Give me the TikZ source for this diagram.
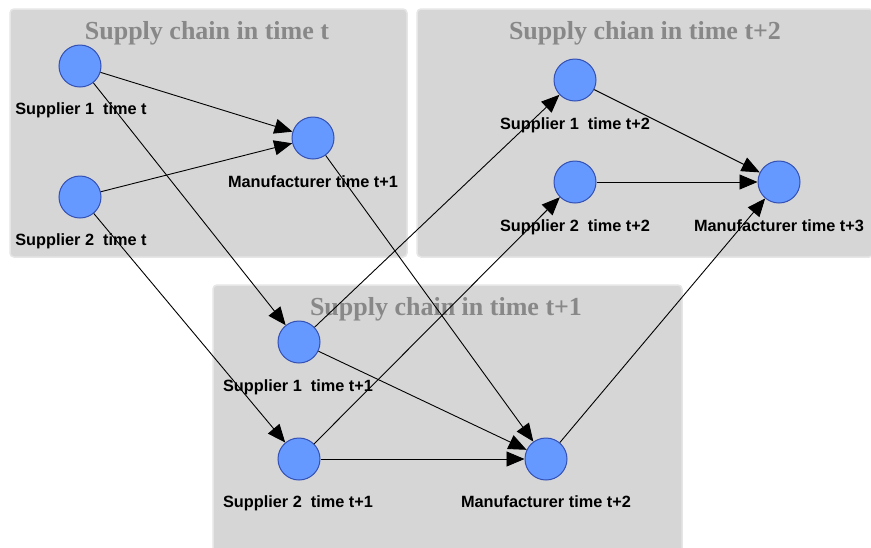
\documentclass[tikz,border=0pt]{standalone}
\usepackage{fontspec}
\setmainfont{Liberation Serif}
\setsansfont{Liberation Sans}
\usetikzlibrary{arrows.meta}
\definecolor{boxgray}{RGB}{214,214,214}
\definecolor{boxedge}{RGB}{230,230,230}
\definecolor{titlegray}{RGB}{136,136,136}
\definecolor{nodeblue}{RGB}{102,153,255}
\definecolor{nodeedge}{RGB}{51,80,180}
\tikzset{>={Triangle[length=18pt,width=15pt]}}
\tikzset{
  chainbox/.style={fill=boxgray, draw=boxedge, line width=1.5pt, rounded corners=4pt},
  boxtitle/.style={anchor=base, text=titlegray, font=\fontsize{26}{28}\selectfont\bfseries},
  agent/.style={circle, minimum size=42pt, inner sep=0pt, fill=nodeblue, draw=nodeedge, line width=1pt},
  lbl/.style={anchor=base, font=\sffamily\bfseries\fontsize{16.3}{18}\selectfont},
  flow/.style={->, line width=0.9pt}
}
\begin{document}
\begin{tikzpicture}[x=1pt, y=-1pt]
      \useasboundingbox (0,0) rectangle (871,547);
      \fill[white] (0,0) rectangle (871,547);
      \clip (0,0) rectangle (871,547);
      \draw[chainbox] (10,9) rectangle (407,257);
      \draw[chainbox] (417,9) rectangle (873,257);
      \draw[chainbox] (213,285) rectangle (682,560);
      \node[boxtitle] (title0) at (207,39) {Supply chain in time t};
      \node[boxtitle] (title2) at (645,39) {Supply chian in time t+2};
      \node[boxtitle] (title1) at (446,315) {Supply chain in time t+1};
      \node[agent] (s1t) at (80,66) {};
      \node[agent] (s2t) at (80,197) {};
      \node[agent] (mt1) at (313,138) {};
      \node[agent] (s1t1) at (299,342) {};
      \node[agent] (s2t1) at (299,459) {};
      \node[agent] (mt2) at (546,459) {};
      \node[agent] (s1t2) at (575,80) {};
      \node[agent] (s2t2) at (575,182) {};
      \node[agent] (mt3) at (779,182) {};
      \node[lbl] (ls1t) at (81,114) {Supplier 1~~time t};
      \node[lbl] (ls2t) at (81,245) {Supplier 2~~time t};
      \node[lbl] (lmt1) at (313,187) {Manufacturer time t+1};
      \node[lbl] (ls1t1) at (298,391) {Supplier 1~~time t+1};
      \node[lbl] (ls2t1) at (298,507) {Supplier 2~~time t+1};
      \node[lbl] (lmt2) at (546,507) {Manufacturer time t+2};
      \node[lbl] (ls1t2) at (575,129) {Supplier 1~~time t+2};
      \node[lbl] (ls2t2) at (575,231) {Supplier 2~~time t+2};
      \node[lbl] (lmt3) at (779,231) {Manufacturer time t+3};
      \draw[flow] (s1t) -- (mt1);
      \draw[flow] (s2t) -- (mt1);
      \draw[flow] (s1t) -- (s1t1);
      \draw[flow] (s2t) -- (s2t1);
      \draw[flow] (mt1) -- (mt2);
      \draw[flow] (s1t1) -- (mt2);
      \draw[flow] (s2t1) -- (mt2);
      \draw[flow] (s1t1) -- (s1t2);
      \draw[flow] (s2t1) -- (s2t2);
      \draw[flow] (mt2) -- (mt3);
      \draw[flow] (s1t2) -- (mt3);
      \draw[flow] (s2t2) -- (mt3);
    \end{tikzpicture}
\end{document}
